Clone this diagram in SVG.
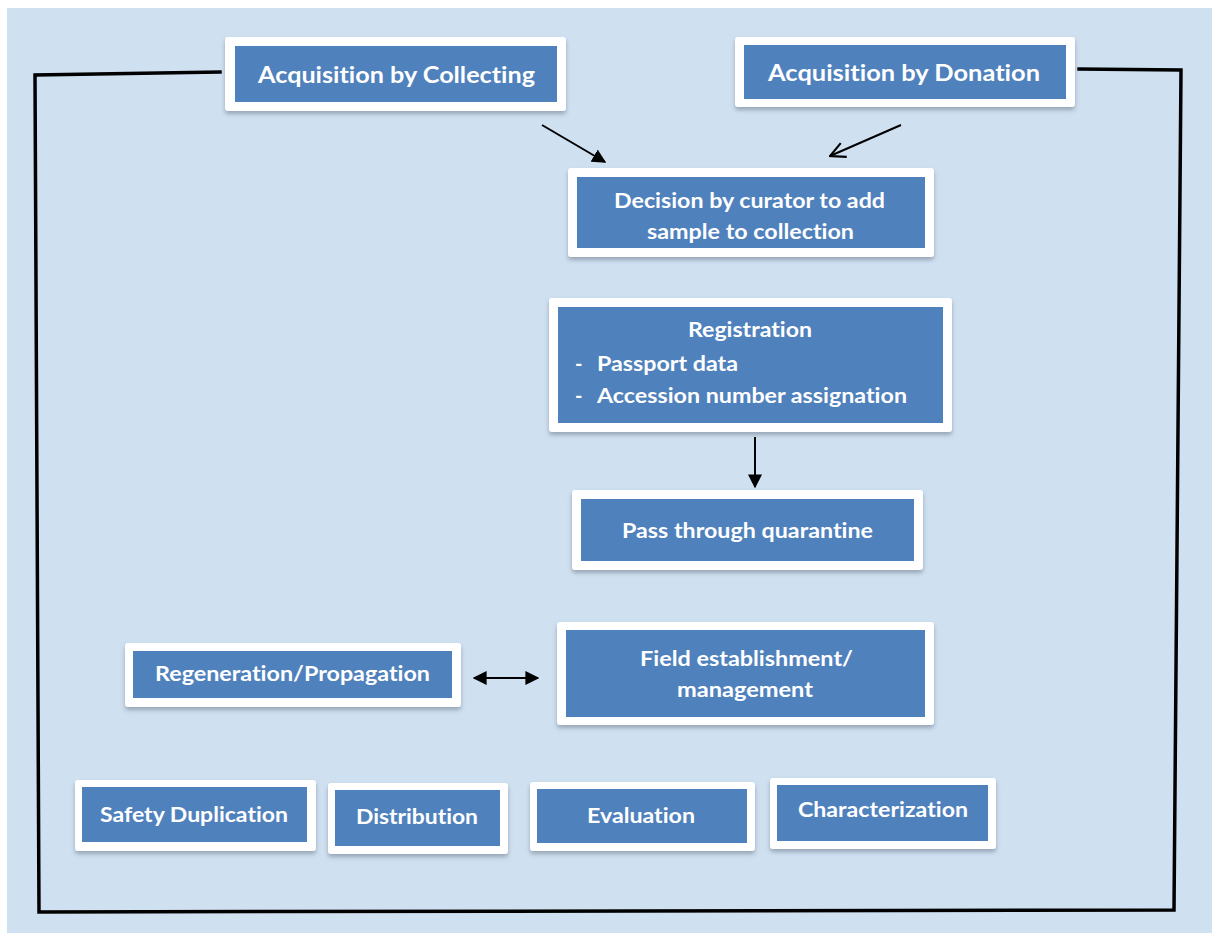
<svg xmlns="http://www.w3.org/2000/svg" width="1212" height="933" viewBox="0 0 1212 933">
  <style>
    .frame { fill: #ffffff; filter: url(#shadow); }
    .fill { fill: #4f81bd; }
    .t { font-family: Lato, "Open Sans", "Liberation Sans", sans-serif; font-weight: bold; fill: #ffffff; font-variant-ligatures: none; }
    .big { font-size: 22px; }
    .mid { font-size: 20px; }
    .line { fill: none; stroke: #000000; stroke-width: 3.5; stroke-linecap: square; stroke-linejoin: miter; }
    .arr { fill: none; stroke: #000000; stroke-width: 2; }
  </style>
  <defs>
    <filter id="shadow" x="-10%" y="-20%" width="120%" height="150%">
      <feDropShadow dx="0" dy="3" stdDeviation="2" flood-color="#6b7785" flood-opacity="0.55"/>
    </filter>
    <marker id="solid" viewBox="0 0 10 10" refX="9" refY="5" markerWidth="14" markerHeight="14" orient="auto-start-reverse" markerUnits="userSpaceOnUse">
      <path d="M0,0 L10,5 L0,10 z" fill="#000000"/>
    </marker>
    <marker id="open" viewBox="0 0 12 12" refX="11" refY="6" markerWidth="18" markerHeight="18" orient="auto" markerUnits="userSpaceOnUse">
      <path d="M1,1 L11,6 L1,11" fill="none" stroke="#000000" stroke-width="1.4"/>
    </marker>
  </defs>

  <!-- page background -->
  <rect x="0" y="0" width="1212" height="933" fill="#ffffff"/>
  <rect x="7" y="8" width="1205" height="925" fill="#cfe0f1"/>

  <!-- connectors -->
  <g id="connectors">
    <polyline class="line" points="220,72 35,75 39,912 1174,910 1181,70 1079,69"/>
    <line class="arr" x1="542" y1="125" x2="605" y2="162" marker-end="url(#solid)"/>
    <line class="arr" x1="901" y1="125" x2="830" y2="156" marker-end="url(#open)"/>
    <line class="arr" x1="755" y1="437" x2="755" y2="487" marker-end="url(#solid)"/>
    <line class="arr" x1="474" y1="678" x2="538" y2="678" marker-start="url(#solid)" marker-end="url(#solid)"/>
  </g>

  <g id="acq-collecting">
    <rect class="frame" x="225" y="37" width="341" height="74" rx="3"/>
    <rect class="fill" x="235" y="46" width="322" height="56"/>
    <text class="t big" x="258" y="83" textLength="277" lengthAdjust="spacingAndGlyphs">Acquisition by Collecting</text>
  </g>

  <g id="acq-donation">
    <rect class="frame" x="735" y="37" width="340" height="70" rx="3"/>
    <rect class="fill" x="744" y="45" width="322" height="54"/>
    <text class="t big" x="768" y="81" textLength="272" lengthAdjust="spacingAndGlyphs">Acquisition by Donation</text>
  </g>

  <g id="decision">
    <rect class="frame" x="568" y="168" width="366" height="89" rx="3"/>
    <rect class="fill" x="577" y="177" width="348" height="71"/>
    <text class="t mid" x="614" y="208" textLength="271" lengthAdjust="spacingAndGlyphs">Decision by curator to add</text>
    <text class="t mid" x="647" y="239" textLength="207" lengthAdjust="spacingAndGlyphs">sample to collection</text>
  </g>

  <g id="registration">
    <rect class="frame" x="549" y="298" width="403" height="134" rx="3"/>
    <rect class="fill" x="558" y="307" width="385" height="116"/>
    <text class="t mid" x="688" y="337" textLength="124" lengthAdjust="spacingAndGlyphs">Registration</text>
    <text class="t mid" x="575" y="371">-</text>
    <text class="t mid" x="597" y="371" textLength="141" lengthAdjust="spacingAndGlyphs">Passport data</text>
    <text class="t mid" x="575" y="403">-</text>
    <text class="t mid" x="597" y="403" textLength="310" lengthAdjust="spacingAndGlyphs">Accession number assignation</text>
  </g>

  <g id="quarantine">
    <rect class="frame" x="572" y="490" width="351" height="80" rx="3"/>
    <rect class="fill" x="581" y="499" width="333" height="62"/>
    <text class="t mid" x="622" y="538" textLength="251" lengthAdjust="spacingAndGlyphs">Pass through quarantine</text>
  </g>

  <g id="regeneration">
    <rect class="frame" x="125" y="643" width="336" height="64" rx="3"/>
    <rect class="fill" x="133" y="651" width="319" height="47"/>
    <text class="t mid" x="155" y="681" textLength="275" lengthAdjust="spacingAndGlyphs">Regeneration/Propagation</text>
  </g>

  <g id="field">
    <rect class="frame" x="557" y="622" width="377" height="103" rx="3"/>
    <rect class="fill" x="566" y="630" width="359" height="87"/>
    <text class="t mid" x="640" y="666" textLength="213" lengthAdjust="spacingAndGlyphs">Field establishment/</text>
    <text class="t mid" x="677" y="697" textLength="136" lengthAdjust="spacingAndGlyphs">management</text>
  </g>

  <g id="safety">
    <rect class="frame" x="75" y="780" width="241" height="71" rx="3"/>
    <rect class="fill" x="82" y="787" width="225" height="55"/>
    <text class="t mid" x="100" y="822" textLength="188" lengthAdjust="spacingAndGlyphs">Safety Duplication</text>
  </g>

  <g id="distribution">
    <rect class="frame" x="328" y="783" width="180" height="71" rx="3"/>
    <rect class="fill" x="335" y="790" width="165" height="56"/>
    <text class="t mid" x="356" y="824" textLength="122" lengthAdjust="spacingAndGlyphs">Distribution</text>
  </g>

  <g id="evaluation">
    <rect class="frame" x="530" y="782" width="225" height="69" rx="3"/>
    <rect class="fill" x="537" y="789" width="210" height="54"/>
    <text class="t mid" x="587" y="823" textLength="108" lengthAdjust="spacingAndGlyphs">Evaluation</text>
  </g>

  <g id="characterization">
    <rect class="frame" x="770" y="778" width="226" height="71" rx="3"/>
    <rect class="fill" x="777" y="785" width="211" height="56"/>
    <text class="t mid" x="798" y="817" textLength="170" lengthAdjust="spacingAndGlyphs">Characterization</text>
  </g>
</svg>
